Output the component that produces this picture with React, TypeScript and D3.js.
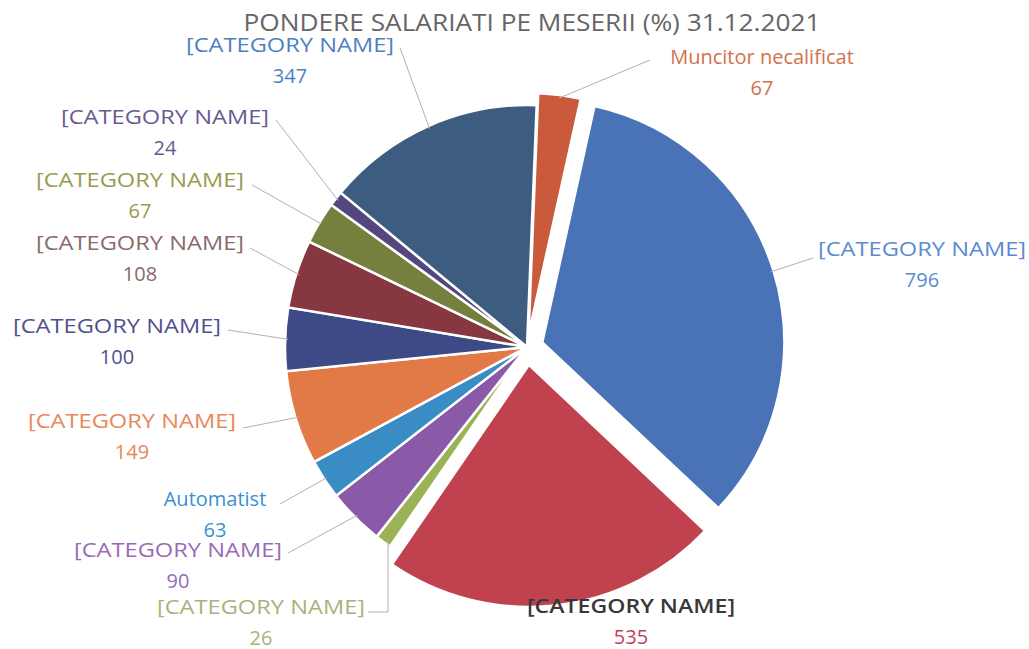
import React, { useRef, useEffect } from 'react';
import * as d3 from 'd3';

// clockwise from 12 o'clock
const categories = [
  'Muncitor necalificat', '[CATEGORY NAME]', '[CATEGORY NAME]', '[CATEGORY NAME]',
  '[CATEGORY NAME]', 'Automatist', '[CATEGORY NAME]', '[CATEGORY NAME]',
  '[CATEGORY NAME]', '[CATEGORY NAME]', '[CATEGORY NAME]', '[CATEGORY NAME]',
];
const values = [67, 796, 535, 26, 90, 63, 149, 100, 108, 67, 24, 347];
const title = 'PONDERE SALARIATI PE MESERII (%) 31.12.2021';

const sliceColors = ['#c95a3c', '#4a72b6', '#c0424e', '#9cb257', '#8a5aa8', '#3a8cc4',
  '#e27a48', '#3d4a86', '#873740', '#76803e', '#554680', '#3d5d80'];
const nameColors = ['#d4704c', '#5b8bd0', '#383838', '#aab27a', '#9a6bb5', '#3a8fd0',
  '#e8875a', '#505090', '#8a6a6a', '#9a9a50', '#6a5a90', '#4e7fbf'];
const valueColors = ['#d4704c', '#5b8bd0', '#c0405a', '#aab27a', '#9a6bb5', '#3a8fd0',
  '#e8875a', '#505090', '#8a6a6a', '#9a9a50', '#6a5a90', '#4e7fbf'];

// label layout: [text centre x, name baseline y], leader start, explode offset
const labelPos = [[762, 64], [922, 256], [631, 613], [261, 614], [178, 557], [215, 506],
  [132, 428], [117, 333], [140, 250], [140, 187], [165, 124], [290, 52]];
const leaderStart = [[650, 60], [813, 258], null, [368, 612], [288, 553], [280, 504],
  [243, 428], [228, 330], [250, 248], [252, 185], [276, 120], [400, 48]];
const explode = [12, 16, 18, 0, 0, 0, 0, 0, 0, 0, 0, 0];

const App = () => {
  const svgRef = useRef();

  useEffect(() => {
    const svg = d3.select(svgRef.current);
    svg.selectAll('*').remove();

    const cx = 527, cy = 347, r = 242;
    const font = 'Open Sans, sans-serif';
    const rot = 0.04;

    const pie = d3.pie().value(d => d).sort(null)
      .startAngle(rot).endAngle(2 * Math.PI + rot);
    const arcs = pie(values);
    const arc = d3.arc().innerRadius(0).outerRadius(r);

    const g = svg.append('g').attr('transform', `translate(${cx},${cy})`);

    g.selectAll('path')
      .data(arcs)
      .join('path')
      .attr('d', arc)
      .attr('transform', (d, i) => {
        const m = (d.startAngle + d.endAngle) / 2;
        return `translate(${Math.sin(m) * explode[i]},${-Math.cos(m) * explode[i]})`;
      })
      .attr('fill', (d, i) => sliceColors[i])
      .attr('stroke', '#fff')
      .attr('stroke-width', 2.5);

    // leader lines
    arcs.forEach((d, i) => {
      const s = leaderStart[i];
      if (!s) return;
      const m = (d.startAngle + d.endAngle) / 2;
      const rr = r + explode[i] - 3;
      const ex = cx + Math.sin(m) * rr;
      const ey = cy - Math.cos(m) * rr;
      let pts = [s, [ex, ey]];
      if (i === 3) pts = [s, [ex + 3, s[1]], [ex + 3, ey]];
      svg.append('path')
        .attr('d', d3.line()(pts))
        .attr('fill', 'none')
        .attr('stroke', '#b0b0b8')
        .attr('stroke-width', 1);
    });

    // labels
    arcs.forEach((d, i) => {
      const [x, y] = labelPos[i];
      const name = svg.append('text')
        .attr('x', x).attr('y', y)
        .attr('text-anchor', 'middle')
        .attr('font-family', font)
        .attr('font-size', 20)
        .attr('font-weight', i === 2 ? 600 : 400)
        .attr('fill', nameColors[i])
        .text(categories[i]);
      if (categories[i] === '[CATEGORY NAME]') {
        name.attr('textLength', 208).attr('lengthAdjust', 'spacingAndGlyphs');
      }
      svg.append('text')
        .attr('x', x).attr('y', y + 31)
        .attr('text-anchor', 'middle')
        .attr('font-family', font)
        .attr('font-size', 20)
        .attr('fill', valueColors[i])
        .text(values[i]);
    });

    svg.append('text')
      .attr('x', 532).attr('y', 31)
      .attr('text-anchor', 'middle')
      .attr('font-family', font)
      .attr('font-size', 23)
      .attr('textLength', 577)
      .attr('lengthAdjust', 'spacingAndGlyphs')
      .attr('fill', '#666')
      .text(title);
  }, []);

  return (
    <svg ref={svgRef} width="1029" height="649"
      style={{ position: 'absolute', left: 0, top: 0, background: '#fff' }}></svg>
  );
};

export default App;
